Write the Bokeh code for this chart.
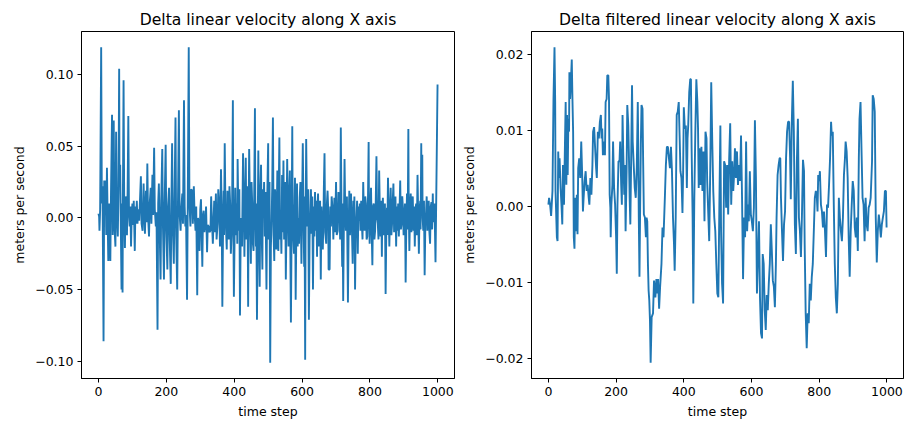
from bokeh.plotting import figure
from bokeh.layouts import row
from bokeh.models import Range1d, FixedTicker, CustomJSTickFormatter
from bokeh.embed import file_html
from bokeh.resources import INLINE

FONT = "DejaVu Sans"
BLUE = "#1f77b4"

# ---- data: (time step, delta velocity) ----
left_seg1 = [
    (0, 0.003), (2, 0.001), (3, -0.009), (5, 0.006), (8, 0.119), (10, 0.010), (12, 0.022), (15, -0.086), (17, 0.026), (19, 0.012),
    (21, 0.026), (23, -0.012), (25, 0.035), (27, 0.002), (29, -0.030), (31, 0.010), (33, -0.015), (35, -0.030), (37, 0.018), (40, 0.072),
    (42, -0.012), (45, 0.068), (47, -0.005), (50, -0.020), (52, 0.060), (54, 0.004), (57, -0.013), (59, 0.020), (61, 0.104), (62, 0.030),
    (64, 0.037), (66, -0.008), (68, -0.050), (69, 0.010), (71, -0.052), (72, 0.012), (74, 0.096), (76, 0.004), (78, -0.021), (80, 0.015),
    (82, 0.005), (84, -0.012), (86, 0.020), (88, 0.071), (90, 0.002), (92, -0.006), (94, 0.008), (96, -0.020), (98, 0.002), (100, 0.010),
    (102, -0.005), (104, 0.012), (107, -0.023), (109, 0.008), (111, -0.004), (113, 0.012), (115, -0.004), (117, 0.006), (120, -0.002), (122, 0.010),
    (125, 0.029), (127, -0.004), (130, -0.009), (133, 0.024), (135, 0.004), (137, -0.011), (140, 0.019), (142, -0.003), (144, 0.038), (146, 0.002),
    (149, -0.013), (151, 0.010), (154, 0.021), (156, -0.004), (159, 0.030), (161, 0.002), (164, 0.049), (166, 0.006), (169, -0.006), (171, 0.004),
    (174, -0.078), (176, 0.010), (178, 0.024), (180, -0.004), (183, -0.043), (185, 0.012), (188, 0.048), (190, -0.006), (193, -0.043), (195, 0.010),
    (198, 0.051), (200, -0.010), (203, -0.036), (205, 0.008), (208, 0.021), (210, -0.016), (213, -0.046), (215, 0.012), (217, 0.052), (219, -0.005),
    (222, -0.032), (224, 0.010), (227, 0.070), (229, -0.012), (232, -0.050), (234, 0.004), (237, 0.075), (239, 0.003), (242, -0.009), (244, 0.006),
    (247, 0.017), (249, -0.004), (252, 0.082), (254, 0.008), (256, -0.006), (258, 0.002), (261, -0.057), (263, 0.006), (266, 0.119), (268, 0.010),
    (271, -0.006), (273, 0.020), (276, 0.019), (278, -0.004), (281, 0.022), (283, 0.004), (286, -0.009), (288, 0.008), (291, -0.054), (293, 0.000),
    (295, -0.002), (298, -0.023), (300, 0.006), (302, 0.013), (304, -0.010), (306, -0.034), (308, 0.002), (310, 0.005), (312, -0.010), (315, -0.004),
    (317, 0.008), (320, -0.024), (322, -0.005), (325, -0.006), (327, -0.010),
]
left_seg2 = [
    (330, -0.009), (332, 0.015), (334, 0.000), (337, -0.018), (341, 0.012), (343, -0.010), (346, 0.017), (348, -0.015), (351, -0.004), (353, 0.020),
    (356, 0.007), (358, -0.020), (361, 0.034), (363, 0.005), (365, -0.062), (367, -0.010), (369, 0.019), (370, -0.012), (372, 0.052), (374, 0.008),
    (376, -0.009), (378, -0.022), (380, 0.019), (382, 0.004), (384, -0.015), (386, 0.022), (388, 0.010), (390, -0.025), (393, -0.006), (394, 0.015),
    (396, 0.082), (397, 0.010), (399, -0.055), (401, -0.015), (403, 0.021), (405, -0.012), (408, 0.010), (409, -0.018), (410, 0.041), (412, 0.006),
    (414, -0.009), (415, 0.020), (417, -0.068), (419, -0.012), (421, 0.000), (423, -0.020), (426, 0.045), (428, 0.012), (430, -0.027), (432, 0.010),
    (434, 0.042), (436, -0.015), (438, 0.000), (439, 0.022), (441, -0.062), (442, -0.010), (444, 0.048), (446, 0.012), (449, -0.032), (451, 0.025),
    (453, 0.010), (455, -0.018), (457, -0.023), (459, 0.020), (461, 0.0765), (462, 0.015), (464, -0.020), (465, 0.010), (467, -0.071), (469, -0.015),
    (471, 0.047), (473, -0.010), (475, -0.048), (477, 0.018), (479, 0.037), (481, -0.012), (483, -0.036), (484, 0.020), (486, 0.000), (488, 0.025),
    (490, -0.013), (492, 0.018), (495, -0.050), (497, 0.010), (500, 0.052), (501, -0.015), (503, 0.007), (504, 0.025), (506, -0.101), (508, -0.020),
    (510, -0.004), (512, 0.022), (514, 0.070), (516, -0.012), (518, -0.030), (520, 0.020), (522, 0.014), (524, -0.022), (527, 0.033), (528, -0.010),
    (530, -0.023), (531, 0.015), (533, 0.056), (535, -0.015), (537, -0.002), (539, -0.025), (541, 0.030), (543, -0.010), (545, 0.040), (547, -0.015),
    (549, 0.000), (550, 0.025), (552, -0.043), (554, -0.005), (556, 0.041), (558, 0.010), (560, -0.020), (562, 0.015), (564, 0.033), (565, -0.012),
    (567, -0.073), (569, -0.010), (571, 0.064), (572, 0.010), (574, -0.013), (576, -0.025), (578, 0.014), (579, 0.028), (581, -0.057), (583, -0.010),
    (585, 0.024), (587, -0.020), (589, 0.000), (591, -0.018), (593, 0.014), (595, 0.025), (598, -0.032), (600, 0.010), (602, 0.052), (604, 0.005),
    (606, -0.034), (607, 0.015), (609, -0.099), (610, -0.020), (612, 0.055), (614, 0.010), (616, -0.006), (618, 0.020), (620, -0.071), (622, -0.015),
    (624, 0.003), (626, 0.020), (628, -0.011), (630, 0.015), (632, -0.050), (634, 0.008), (636, -0.013), (638, 0.018), (640, -0.009), (642, 0.012),
    (644, -0.027), (645, 0.005), (647, 0.017), (649, -0.020), (651, -0.009), (653, 0.012), (655, -0.043), (657, 0.008), (659, -0.006), (661, -0.022),
    (663, 0.003), (664, 0.020), (666, 0.045), (668, -0.010), (671, -0.018), (673, 0.010), (675, 0.019), (677, 0.005), (678, -0.036),
]
left_seg3 = [
    (681, -0.036), (683, 0.008), (685, -0.006), (687, 0.015), (690, 0.005), (692, -0.015), (695, 0.014), (697, -0.010), (700, 0.025), (702, -0.012),
    (705, -0.009), (707, 0.018), (710, 0.010), (712, -0.015), (714, 0.063), (716, 0.005), (718, -0.034), (719, 0.010), (721, -0.058), (723, -0.005),
    (725, 0.041), (727, 0.005), (729, -0.009), (732, 0.015), (735, -0.059), (737, -0.010), (739, 0.019), (741, -0.012), (744, 0.017), (746, 0.000),
    (749, -0.032), (751, 0.012), (753, 0.000), (754, 0.015), (756, -0.050), (758, -0.008), (760, 0.000), (762, 0.012), (764, -0.025), (766, 0.008),
    (768, -0.002), (770, 0.010), (772, -0.009), (774, 0.012), (776, -0.004), (778, -0.015), (780, 0.025), (782, 0.002), (784, -0.009), (786, 0.015),
    (788, 0.010), (790, -0.015), (792, -0.013), (794, 0.012), (796, 0.053), (797, 0.005), (799, -0.018), (801, 0.005), (803, 0.021), (805, -0.010),
    (807, -0.033), (809, 0.008), (811, 0.010), (813, -0.015), (815, -0.009), (817, 0.012), (819, 0.043), (821, 0.000), (823, -0.004), (825, -0.015),
    (827, 0.033), (829, 0.005), (831, -0.013), (833, 0.012), (835, -0.027), (836, 0.000), (838, 0.014), (840, -0.012), (842, -0.009), (844, 0.010),
    (846, -0.053), (848, -0.010), (850, 0.007), (851, -0.012), (853, 0.028), (855, 0.004), (857, -0.020), (859, 0.005), (861, 0.021), (863, -0.012),
    (865, -0.004), (867, 0.012), (869, 0.024), (871, -0.010), (874, 0.003), (875, 0.015), (877, -0.020), (879, 0.008), (881, -0.009), (883, 0.010),
    (885, -0.013), (887, 0.005), (889, 0.026), (891, -0.008), (893, -0.004), (895, 0.015), (897, 0.007), (899, -0.012), (901, -0.009), (903, 0.010),
    (905, -0.045), (907, -0.005), (909, 0.017), (911, -0.008), (913, 0.062), (914, 0.010), (916, -0.023), (918, 0.005), (920, 0.017), (922, -0.010),
    (924, 0.007), (926, 0.015), (928, -0.009), (930, 0.008), (932, -0.020), (934, 0.005), (936, 0.010), (938, -0.012), (940, 0.030), (942, 0.002),
    (944, -0.025), (946, 0.005), (948, 0.012), (949, -0.008), (951, 0.052), (952, 0.010), (954, 0.044), (955, 0.000), (957, -0.009), (959, 0.012),
    (961, -0.040), (963, -0.005), (965, 0.003), (967, 0.015), (969, -0.009), (971, 0.005), (973, 0.012), (975, -0.010), (977, -0.018), (979, 0.008),
    (981, 0.011), (983, -0.008), (985, 0.017), (986, 0.002), (988, -0.003), (990, 0.010), (993, -0.031), (999, 0.093),
]

right_seg1 = [
    (0, 0.0002), (2, 0.0011), (5, 0.0002), (8, -0.0013), (12, 0.0020), (15, 0.0141), (18, 0.0209), (20, 0.0137), (21, 0.0020), (25, -0.0041),
    (27, -0.0046), (29, 0.0072), (31, 0.0037), (33, 0.0063), (36, 0.0024), (39, -0.0002), (41, -0.0024), (43, 0.0054), (46, 0.0002), (49, 0.0085),
    (51, 0.0137), (53, 0.0028), (55, 0.0120), (57, 0.0041), (59, 0.0115), (61, 0.0098), (62, 0.0176), (64, 0.0141), (66, 0.0159), (69, 0.0193),
    (71, 0.0141), (73, 0.0098), (75, -0.0041), (77, -0.0056), (79, 0.0011), (81, -0.0033), (84, 0.0015), (86, -0.0037), (88, 0.0050), (91, 0.0063),
    (94, 0.0037), (97, 0.0085), (100, 0.0037), (102, -0.0007), (104, 0.0011), (107, 0.0033), (110, 0.0046), (113, 0.0020), (116, 0.0028), (119, 0.0011),
    (121, 0.0002), (124, 0.0037), (127, 0.0015), (130, 0.0054), (132, 0.0098), (135, 0.0104), (138, 0.0076), (141, 0.0050), (143, 0.0037), (146, 0.0098),
    (149, 0.0089), (152, 0.0111), (155, 0.0120), (157, 0.0089), (159, 0.0102), (161, 0.0067), (164, 0.0085), (167, 0.0067), (169, 0.0137), (172, 0.0141),
    (174, 0.0172), (177, 0.0172), (179, 0.0141), (181, 0.0015), (183, -0.0002), (184, -0.0041), (186, 0.0002), (189, 0.0028), (191, 0.0085), (194, 0.0024),
    (197, 0.0002), (200, -0.0041), (202, -0.0089), (204, 0.0002), (207, 0.0059), (210, 0.0059), (212, 0.0085), (215, 0.0028), (217, 0.0002), (219, 0.0120),
    (221, 0.0072), (224, 0.0015), (226, 0.0054), (228, -0.0033), (231, 0.0046), (233, 0.0133), (236, 0.0106), (238, 0.0063), (240, 0.0011), (242, -0.0024),
    (244, 0.0046), (247, 0.0159), (249, 0.0085), (252, 0.0054), (255, 0.0024), (258, 0.0011), (261, 0.0050), (264, 0.0137), (265, 0.0098), (267, -0.0015),
    (269, -0.0093), (271, -0.0002), (273, 0.0080), (275, 0.0133), (278, 0.0128), (280, 0.0054), (282, -0.0011), (285, -0.0015), (288, -0.0041), (290, -0.0015),
]
right_seg2 = [
    (292, -0.0020), (294, -0.0076), (296, -0.0111), (298, -0.0124), (300, -0.0150), (302, -0.0206), (305, -0.0146), (309, -0.0141), (312, -0.0098), (316, -0.0120),
    (319, -0.0096), (322, -0.0115), (324, -0.0096), (327, -0.0135), (330, -0.0106), (334, -0.0076), (337, -0.0028), (340, -0.0041), (344, 0.0011), (347, 0.0054),
    (350, 0.0078), (353, 0.0078), (356, 0.0063), (359, 0.0050), (362, 0.0078), (365, 0.0046), (368, -0.0015), (371, -0.0050), (373, -0.0085), (376, -0.0015),
    (379, 0.0120), (382, 0.0124), (385, 0.0137), (388, 0.0085), (390, 0.0046), (393, 0.0037), (396, -0.0009), (398, 0.0046), (400, 0.0130), (403, 0.0102),
    (406, 0.0106), (409, 0.0024), (411, 0.0089), (413, 0.0106), (416, 0.0150), (419, 0.0167), (421, 0.0167), (423, 0.0076), (426, -0.0015), (428, -0.0128),
    (431, 0.0011), (434, 0.0098), (437, 0.0167), (440, 0.0137), (442, 0.0102), (444, 0.0024), (446, 0.0076), (449, 0.0028), (452, 0.0078), (455, 0.0020),
    (458, 0.0072), (461, -0.0020), (464, 0.0098), (467, 0.0089), (469, 0.0033), (472, -0.0007), (475, -0.0046), (478, 0.0046), (481, 0.0163), (484, 0.0085),
    (487, 0.0020), (490, -0.0015), (493, -0.0033), (496, -0.0076), (499, -0.0115), (502, -0.0120), (505, 0.0002), (508, 0.0106), (510, -0.0033), (513, -0.0102),
    (516, -0.0128), (519, 0.0059), (522, 0.0054), (525, -0.0002), (528, 0.0054), (531, -0.0011), (534, 0.0063), (537, 0.0109), (540, 0.0002), (543, 0.0059),
    (546, 0.0020), (549, 0.0046), (551, 0.0076), (554, 0.0037), (557, 0.0072), (560, 0.0028), (563, 0.0054), (566, 0.0033), (569, 0.0093), (572, 0.0011),
]
right_seg3 = [
    (575, -0.0096), (578, -0.0015), (581, -0.0041), (584, 0.0085), (587, -0.0033), (590, 0.0002), (592, -0.0020), (595, 0.0046), (598, -0.0011), (601, -0.0020),
    (604, -0.0033), (607, -0.0002), (610, 0.0113), (613, 0.0037), (616, -0.0115), (619, -0.0067), (622, -0.0020), (625, -0.0120), (628, -0.0167), (631, -0.0174),
    (633, -0.0063), (636, -0.0076), (639, -0.0137), (642, -0.0163), (645, -0.0117), (648, -0.0137), (651, -0.0102), (654, -0.0076), (657, -0.0024), (660, -0.0059),
    (663, -0.0098), (666, -0.0106), (669, -0.0133), (672, -0.0076), (674, -0.0015), (677, 0.0041), (680, 0.0054), (683, 0.0063), (685, 0.0063), (687, 0.0011),
    (690, -0.0033), (693, -0.0072), (696, -0.0024), (699, -0.0007), (702, 0.0063), (705, 0.0098), (708, 0.0111), (711, 0.0111), (714, 0.0063), (716, 0.0009),
    (719, 0.0111), (722, 0.0165), (725, 0.0098), (728, -0.0024), (731, -0.0063), (734, 0.0059), (737, 0.0115), (740, -0.0015), (743, -0.0033), (746, -0.0067),
    (749, -0.0011), (752, 0.0061), (755, 0.0046), (757, -0.0050), (760, -0.0141), (763, -0.0187), (766, -0.0141), (769, -0.0154), (772, -0.0102), (775, -0.0124),
    (778, -0.0093), (781, -0.0076), (784, -0.0033), (787, 0.0011), (790, 0.0020), (793, 0.0011), (795, -0.0007), (797, 0.0041), (800, 0.0033), (802, 0.0046),
]
right_seg4 = [
    (805, 0.0002), (808, -0.0007), (811, -0.0028), (814, -0.0007), (817, -0.0033), (820, -0.0067), (823, 0.0002), (826, -0.0002), (829, 0.0028), (832, 0.0063),
    (835, 0.0111), (837, 0.0093), (840, 0.0098), (843, 0.0002), (846, -0.0076), (849, -0.0120), (852, -0.0141), (855, -0.0102), (858, 0.0011), (861, -0.0015),
    (864, -0.0033), (867, -0.0046), (870, -0.0015), (873, 0.0041), (876, 0.0063), (878, 0.0085), (881, 0.0072), (884, 0.0037), (887, -0.0041), (890, -0.0093),
    (893, -0.0033), (896, 0.0002), (899, 0.0033), (902, 0.0020), (905, -0.0028), (908, -0.0041), (911, -0.0015), (914, -0.0059), (917, 0.0063), (919, 0.0115),
    (922, 0.0137), (925, 0.0072), (928, 0.0011), (931, 0.0002), (934, -0.0046), (937, 0.0011), (940, -0.0024), (943, -0.0033), (946, -0.0002), (949, 0.0002),
    (952, 0.0011), (956, 0.0059), (958, 0.0146), (961, 0.0141), (964, 0.0124), (967, -0.0015), (970, -0.0074), (973, -0.0033), (976, -0.0011), (979, -0.0024),
    (982, -0.0041), (985, -0.0024), (988, -0.0015), (991, -0.0007), (994, 0.0020), (997, 0.0020), (999, -0.0028),
]

x_ticks = [0, 200, 400, 600, 800, 1000]
left_y_ticks = [-0.10, -0.05, 0.0, 0.05, 0.10]
right_y_ticks = [-0.02, -0.01, 0.0, 0.01, 0.02]

titles = ["Delta linear velocity along X axis",
          "Delta filtered linear velocity along X axis"]
x_label = "time step"
y_label = "meters per second"


def unzip(*segs):
    xs, ys = [], []
    for seg in segs:
        for a, b in seg:
            xs.append(a)
            ys.append(b)
    return xs, ys


def make(title, xs, ys, yticks, width, bl, br):
    ymin, ymax = min(ys), max(ys)
    ypad = 0.05 * (ymax - ymin)
    xmin, xmax = 0, 999
    xpad = 0.05 * (xmax - xmin)
    p = figure(width=width, height=421, output_backend="svg", toolbar_location=None,
               x_range=Range1d(xmin - xpad, xmax + xpad),
               y_range=Range1d(ymin - ypad, ymax + ypad),
               min_border_left=bl, min_border_right=br,
               min_border_top=31, min_border_bottom=43)
    p.title.text = title
    p.title.align = "center"
    p.title.text_font = FONT
    p.title.text_font_size = "15.6px"
    p.title.text_font_style = "normal"
    p.title.text_color = "black"
    p.title.standoff = 6
    p.grid.visible = False
    p.background_fill_color = "white"
    p.border_fill_color = "white"
    p.outline_line_color = "black"
    p.outline_line_width = 1
    p.line(xs, ys, line_color=BLUE, line_width=1.9)

    p.xaxis.ticker = FixedTicker(ticks=x_ticks)
    p.yaxis.ticker = FixedTicker(ticks=yticks)
    p.yaxis.formatter = CustomJSTickFormatter(
        code="return (tick < -1e-12 ? '\u2212' : '') + Math.abs(tick).toFixed(2);")
    for ax in (p.xaxis[0], p.yaxis[0]):
        ax.major_label_text_font = FONT
        ax.major_label_text_font_size = "12.5px"
        ax.major_label_text_color = "black"
        ax.axis_label_text_font = FONT
        ax.axis_label_text_font_size = "12.5px"
        ax.axis_label_text_font_style = "normal"
        ax.axis_label_text_color = "black"
        ax.major_tick_in = 0
        ax.major_tick_out = 4
        ax.minor_tick_in = 0
        ax.minor_tick_out = 0
        ax.major_tick_line_color = "black"
        ax.axis_line_color = "black"
        ax.major_label_standoff = 4
        ax.axis_label_standoff = 5
    p.xaxis.axis_label = x_label
    p.yaxis.axis_label = y_label
    return p


lx, ly = unzip(left_seg1, left_seg2, left_seg3)
rx, ry = unzip(right_seg1, right_seg2, right_seg3, right_seg4)

p1 = make(titles[0], lx, ly, left_y_ticks, 455, 81, 1)
p2 = make(titles[1], rx, ry, right_y_ticks, 452, 76, 4)

layout = row(p1, p2)
open("out.html", "w").write(file_html(layout, INLINE))
